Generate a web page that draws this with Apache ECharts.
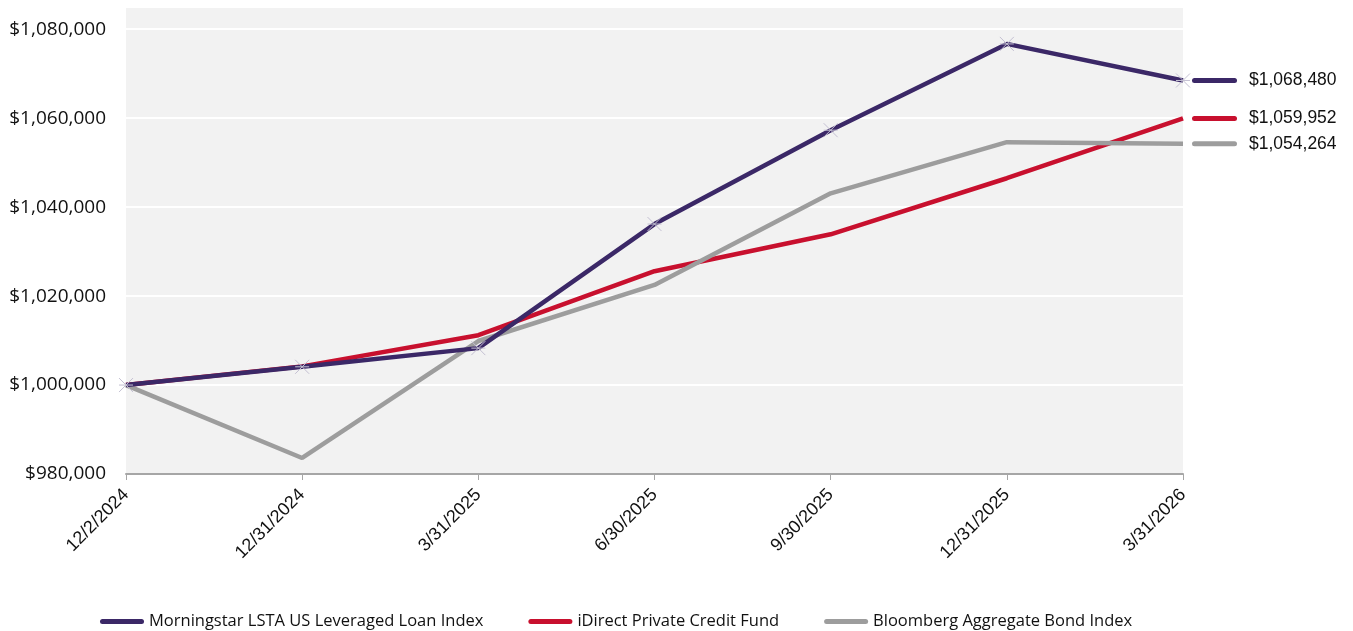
<!DOCTYPE html>
<html>
<head>
<meta charset="utf-8">
<script src="https://cdn.jsdelivr.net/npm/echarts@6/dist/echarts.min.js"></script>
<style>
  html, body { margin: 0; padding: 0; background: #fff; }
  #chart { width: 1353px; height: 631px; }
</style>
</head>
<body>
<div id="chart"></div>
<script>
var categories = ["12/2/2024", "12/31/2024", "3/31/2025", "6/30/2025", "9/30/2025", "12/31/2025", "3/31/2026"];
var loanIndex = [1000000, 1004100, 1008300, 1036200, 1057300, 1076700, 1068480];
var fund = [1000000, 1004200, 1011200, 1025600, 1033900, 1046500, 1059952];
var bondIndex = [1000000, 983600, 1009900, 1022500, 1043100, 1054600, 1054264];
var seriesNames = ["Morningstar LSTA US Leveraged Loan Index", "iDirect Private Credit Fund", "Bloomberg Aggregate Bond Index"];
var lineColors = ["#3b2867", "#c8102e", "#9d9d9d"];

var myChart = echarts.init(document.getElementById("chart"));

function money(v){
    return "$" + Math.round(v).toString().replace(/\B(?=(\d{3})+(?!\d))/g, ",");
}

var starPath = "path://M0,0L10,10M10,0L0,10M0,5L10,5";
// flat bar used as legend icon (kept in aspect inside the item box)
var barIcon = "path://M3,0L81,0A5,5,0,0,1,81,10L3,10A5,5,0,0,1,3,0Z";

function makeSeries(name, data, color, withStar){
    return {
        name: name,
        type: "line",
        data: data,
        symbol: withStar ? starPath : "none",
        symbolSize: 14,
        showSymbol: withStar,
        itemStyle: {
            color: withStar ? "rgba(0,0,0,0)" : color,
            borderColor: "#c4c0d2",
            borderWidth: 1
        },
        lineStyle: { color: color, width: 4.5 },
        z: withStar ? 4 : 3,
        endLabel: {
            show: true,
            distance: 9,
            formatter: function(p){ return "{bar|}{gap|}" + money(p.value); },
            fontFamily: "Liberation Sans",
            fontSize: 17.5,
            color: "#111",
            rich: {
                bar: { backgroundColor: color, width: 45, height: 5, borderRadius: 3 },
                gap: { width: 12, height: 5 }
            }
        }
    };
}

var option = {
    animation: false,
    grid: { left: 126, right: 170, top: 7, bottom: 157, show: true, backgroundColor: "#f2f2f2", borderWidth: 0 },
    legend: {
        top: 608,
        left: 95,
        itemWidth: 44,
        itemHeight: 12,
        itemGap: 45,
        symbolKeepAspect: true,
        textStyle: { fontFamily: "Open Sans", fontSize: 16.5, color: "#111" },
        data: [
            { name: seriesNames[0], icon: barIcon, itemStyle: { color: lineColors[0], borderWidth: 0 } },
            { name: seriesNames[1], icon: barIcon, itemStyle: { color: lineColors[1], borderWidth: 0 } },
            { name: seriesNames[2], icon: barIcon, itemStyle: { color: lineColors[2], borderWidth: 0 } }
        ]
    },
    xAxis: {
        type: "category",
        data: categories,
        boundaryGap: false,
        axisLine: { lineStyle: { color: "#a6a6a6", width: 2 } },
        axisTick: { show: true, length: 6, alignWithLabel: true, lineStyle: { color: "#a6a6a6", width: 1 } },
        axisLabel: {
            rotate: 45,
            margin: 18,
            interval: 0,
            fontFamily: "Liberation Sans",
            fontSize: 18,
            color: "#111"
        },
        splitLine: { show: false }
    },
    yAxis: {
        type: "value",
        min: 980000,
        max: 1085000,
        interval: 20000,
        axisLine: { show: false },
        axisTick: { show: false },
        axisLabel: {
            showMaxLabel: false,
            margin: 20,
            fontFamily: "Open Sans",
            fontSize: 19,
            color: "#111",
            formatter: money
        },
        splitLine: { lineStyle: { color: "#ffffff", width: 2 } }
    },
    series: [
        makeSeries(seriesNames[0], loanIndex, lineColors[0], true),
        makeSeries(seriesNames[1], fund, lineColors[1], false),
        makeSeries(seriesNames[2], bondIndex, lineColors[2], false)
    ]
};

myChart.setOption(option);
window.onresize = myChart.resize;
</script>
</body>
</html>
